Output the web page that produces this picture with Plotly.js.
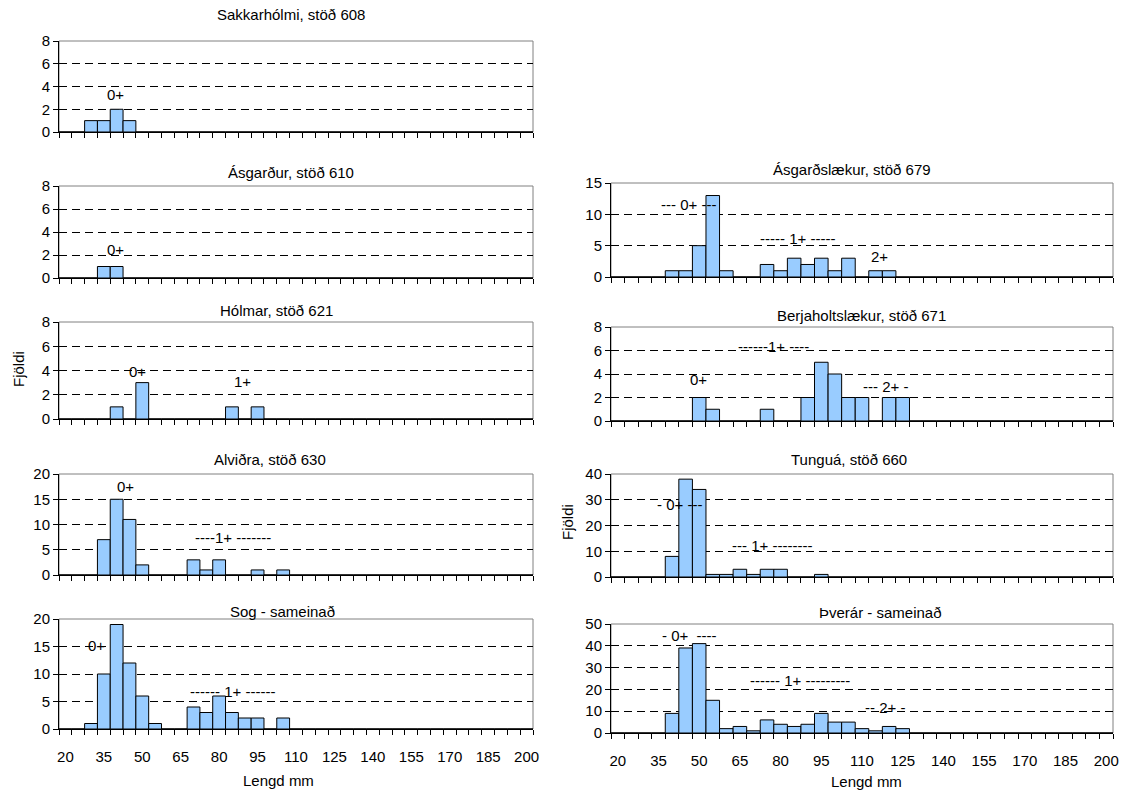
<!DOCTYPE html>
<html>
<head>
<meta charset="utf-8">
<script src="https://cdn.plot.ly/plotly-3.0.1.min.js"></script>
<style>html,body{margin:0;padding:0;background:#fff;}#chart{width:1125px;height:796px;}</style>
</head>
<body>
<div id="chart"></div>
<script>
// Length classes (mm)
const lengths = [20,25,30,35,40,45,50,55,60,65,70,75,80,85,90,95,100,105,110,115,120,125,130,135,140,145,150,155,160,165,170,175,180,185,190,195,200];
const tickLabels = [20,35,50,65,80,95,110,125,140,155,170,185,200];

// Counts per length class
const sakkarholmi   = [0,0,1,1,2,1,0,0,0,0,0,0,0,0,0,0,0,0,0,0,0,0,0,0,0,0,0,0,0,0,0,0,0,0,0,0,0];
const asgardur      = [0,0,0,1,1,0,0,0,0,0,0,0,0,0,0,0,0,0,0,0,0,0,0,0,0,0,0,0,0,0,0,0,0,0,0,0,0];
const holmar        = [0,0,0,0,1,0,3,0,0,0,0,0,0,1,0,1,0,0,0,0,0,0,0,0,0,0,0,0,0,0,0,0,0,0,0,0,0];
const alvidra       = [0,0,0,7,15,11,2,0,0,0,3,1,3,0,0,1,0,1,0,0,0,0,0,0,0,0,0,0,0,0,0,0,0,0,0,0,0];
const sog           = [0,0,1,10,19,12,6,1,0,0,4,3,6,3,2,2,0,2,0,0,0,0,0,0,0,0,0,0,0,0,0,0,0,0,0,0,0];
const asgardslaekur = [0,0,0,0,1,1,5,13,1,0,0,2,1,3,2,3,1,3,0,1,1,0,0,0,0,0,0,0,0,0,0,0,0,0,0,0,0];
const berjaholts    = [0,0,0,0,0,0,2,1,0,0,0,1,0,0,2,5,4,2,2,0,2,2,0,0,0,0,0,0,0,0,0,0,0,0,0,0,0];
const tungua        = [0,0,0,0,8,38,34,1,1,3,1,3,3,0,0,1,0,0,0,0,0,0,0,0,0,0,0,0,0,0,0,0,0,0,0,0,0];
const thverar       = [0,0,0,0,9,39,41,15,2,3,1,6,4,3,4,9,5,5,2,1,3,2,0,0,0,0,0,0,0,0,0,0,0,0,0,0,0];

const titles = ["Sakkarhólmi, stöð 608","Ásgarður, stöð 610","Hólmar, stöð 621","Alviðra, stöð 630","Sog - sameinað",
                "Ásgarðslækur, stöð 679","Berjaholtslækur, stöð 671","Tunguá, stöð 660","Þverár - sameinað"];
const series = [sakkarholmi, asgardur, holmar, alvidra, sog, asgardslaekur, berjaholts, tungua, thverar];
const yMax  = [8,8,8,20,20,15,8,40,50];
const yStep = [2,2,2,5,5,5,2,10,10];

// Age-group labels: [panel, x (mm), y (count), text]
const ageLabels = [
  [0, 39.4, 3.3, "0+"],
  [1, 39.4, 2.5, "0+"],
  [2, 48.3, 3.9, "0+"], [2, 89.3, 3.1, "1+"],
  [3, 43.3, 17.6, "0+"], [3, 85.4, 7.5, "----1+ -------"],
  [4, 32.3, 15.1, "0+"], [4, 85.4, 6.9, "------ 1+ ------"],
  [5, 45.9, 11.5, "--- 0+ ---"], [5, 86.4, 6.2, "----- 1+ -----"], [5, 116.6, 3.2, "2+"],
  [6, 77.2, 6.3, "------1+ ----"], [6, 49.6, 3.5, "0+"], [6, 118.5, 2.9, "--- 2+ -"],
  [7, 42.9, 28.3, "- 0+ ---"], [7, 76.8, 12.4, "--- 1+ --------"],
  [8, 46.6, 44.5, "- 0+ \u00a0----"], [8, 87.1, 23.9, "------ 1+ ---------"], [8, 118.5, 11.5, "-- 2+ -"]
];

// Layout geometry in pixels
const W = 1125, H = 796;
const colX = [[59,533],[611,1113]];
const rows = [ // [col, top, bottom, titleX, titleY]
  [0, 41, 132, 291, 15],
  [0, 186, 278, 291, 172],
  [0, 322, 419, 276, 310],
  [0, 474, 575, 270, 459],
  [0, 619, 729, 282, 611],
  [1, 183, 277, 852, 169],
  [1, 327, 421, 861, 315],
  [1, 474, 577, 849, 460],
  [1, 624, 733, 880, 612]
];
const bottomPanels = [4, 8];
const font = {family: "Liberation Sans, Arial, sans-serif", size: 15, color: "#000"};

const data = [];
const layout = {
  width: W, height: H, margin: {l:0,r:0,t:0,b:0},
  paper_bgcolor: "#fff", plot_bgcolor: "#fff",
  showlegend: false, bargap: 0, font: font,
  annotations: [], shapes: []
};

rows.forEach((r, i) => {
  const n = i === 0 ? "" : String(i+1);
  const [col, top, bottom, tx, ty] = r;
  const isBottom = bottomPanels.includes(i);
  data.push({
    type: "bar", x: lengths, y: series[i], width: 5,
    xaxis: "x"+n, yaxis: "y"+n,
    marker: {color: "#99CCFF", line: {color: "#000", width: 1}},
    hoverinfo: "x+y"
  });
  layout["xaxis"+n] = {
    domain: [colX[col][0]/W, colX[col][1]/W],
    anchor: "y"+n, range: [17.5, 202.5],
    tickmode: "array", tickvals: tickLabels, ticktext: tickLabels.map(String),
    showticklabels: isBottom, ticks: "outside", ticklen: 14, tickcolor: "rgba(0,0,0,0)",
    minor: {tick0: 17.5, dtick: 5, ticks: "outside", ticklen: 5, tickcolor: "#000", tickwidth: 1, showgrid: false},
    showline: true, linecolor: "#000", linewidth: 1,
    showgrid: false, zeroline: false, fixedrange: true,
    tickfont: font
  };
  layout["yaxis"+n] = {
    domain: [(H-bottom)/H, (H-top)/H],
    anchor: "x"+n, range: [0, yMax[i]], tickmode: "linear", tick0: 0, dtick: yStep[i],
    ticks: "outside", ticklen: 5, tickcolor: "#000",
    showline: true, linecolor: "#000", linewidth: 1,
    showgrid: true, gridcolor: "#000", gridwidth: 1, griddash: "8px,5px",
    zeroline: false, fixedrange: true, tickfont: font
  };
  layout.shapes.push({
    type: "rect", xref: "x"+n+" domain", yref: "y"+n+" domain",
    x0: 0, x1: 1, y0: 0, y1: 1, line: {color: "#808080", width: 1}, layer: "below"
  });
  layout.annotations.push({
    text: titles[i], xref: "paper", yref: "paper",
    x: tx/W, y: (H-ty)/H, xanchor: "center", yanchor: "middle",
    showarrow: false, font: font
  });
});

ageLabels.forEach(a => {
  const n = a[0] === 0 ? "" : String(a[0]+1);
  layout.annotations.push({
    text: a[3], x: a[1], y: a[2], xref: "x"+n, yref: "y"+n,
    xanchor: "center", yanchor: "middle", showarrow: false, font: font
  });
});

// Axis titles
[[278, 780], [866, 781]].forEach(p => layout.annotations.push({
  text: "Lengd mm", xref: "paper", yref: "paper", x: p[0]/W, y: (H-p[1])/H,
  xanchor: "center", yanchor: "middle", showarrow: false, font: font
}));
[[18, 369], [567, 522]].forEach(p => layout.annotations.push({
  text: "Fjöldi", xref: "paper", yref: "paper", x: p[0]/W, y: (H-p[1])/H,
  xanchor: "center", yanchor: "middle", showarrow: false, textangle: -90, font: font
}));

Plotly.newPlot("chart", data, layout, {displayModeBar: false, staticPlot: true});
</script>
</body>
</html>
